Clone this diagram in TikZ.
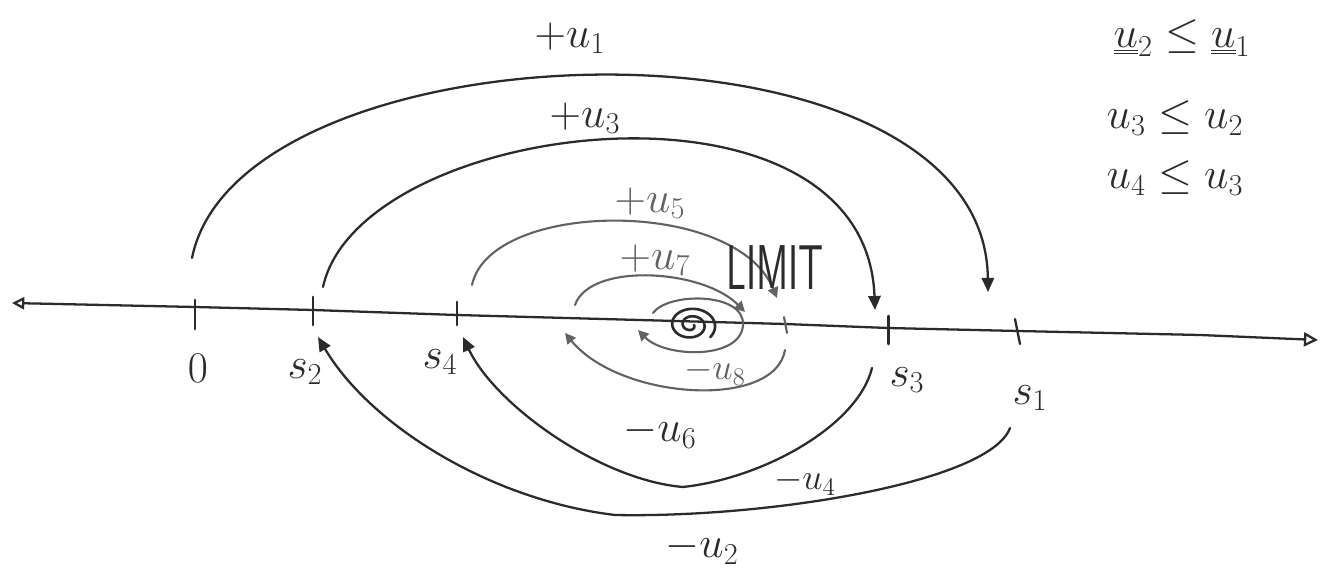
\documentclass[tikz,border=0pt]{standalone}
\usepackage{graphicx}
\usetikzlibrary{arrows.meta}
\definecolor{ink}{HTML}{2B2B2B}
\definecolor{inkgray}{HTML}{626262}
\begin{document}
\begin{tikzpicture}[x=0.02cm,y=-0.02cm,
  pen/.style={draw=ink,line width=1.3pt,line cap=round},
  penlight/.style={draw=inkgray,line width=1.2pt,line cap=round},
  arr/.style={-{Triangle[length=8pt,width=7pt]}},
  arrsmall/.style={-{Triangle[length=6pt,width=6pt]}},
  lbl/.style={font=\fontsize{24}{28}\selectfont,text=ink,inner sep=0pt},
  lbllight/.style={lbl,text=inkgray},
  tickmark/.style={pen,line width=1.7pt}]
\useasboundingbox (0,0) rectangle (1329,574);

% axis
\coordinate (axL) at (12,303);
\coordinate (ax0) at (195,307);
\coordinate (axs2) at (313,310);
\coordinate (axs4) at (457,315);
\coordinate (axlim) at (785,324);
\coordinate (axs3) at (888,328);
\coordinate (axs1) at (1018,331);
\coordinate (axm) at (1200,335);
\coordinate (axR) at (1318,340);
\draw[pen,{Triangle[open,length=7pt,width=7pt]}-{Triangle[open,length=8pt,width=8pt]}]
  (axL) -- (ax0) -- (axs2) -- (axs4) -- (axlim) -- (axs3) -- (axs1) -- (axm) -- (axR);

% ticks
\draw[tickmark] (195,300) -- (195,329);
\draw[tickmark] (313,297) -- (313,325);
\draw[tickmark] (457,302) -- (457,325);
\draw[penlight] (784,317) -- (787,333);
\draw[tickmark] (888,316) -- (888,344);
\draw[pen] (1015,319) -- (1020,344);

% axis labels
\node[lbl] (l0) at (198,368) {$0$};
\node[lbl] (ls2) at (305,372) {$s_2$};
\node[lbl] (ls4) at (440,362) {$s_4$};
\node[lbl] (ls3) at (907,380) {$s_3$};
\node[lbl] (ls1) at (1030,398) {$s_1$};

% endpoints
\coordinate (u1s) at (192,258);
\coordinate (u1e) at (988,292);
\coordinate (u3s) at (323,287);
\coordinate (u3e) at (875,310);
\coordinate (u5s) at (472,285);
\coordinate (u5e) at (777,298);
\coordinate (u7s) at (575,305);
\coordinate (u7e) at (745,312);
\coordinate (lps) at (653,313);
\coordinate (lpr) at (743,325);
\coordinate (lpe) at (638,330);
\coordinate (u6s) at (785,350);
\coordinate (u6e) at (565,333);
\coordinate (u4s) at (872,368);
\coordinate (u4m) at (683,487);
\coordinate (u4e) at (463,337);
\coordinate (u2s) at (1010,428);
\coordinate (u2m) at (615,515);
\coordinate (u2e) at (318,337);
\coordinate (spc) at (691,325);

% upper arcs
\draw[pen,arr] (u1s) .. controls (240,20) and (985,0) .. (u1e);
\draw[pen,arr] (u3s) .. controls (360,118) and (866,58) .. (u3e);
\draw[penlight,arrsmall] (u5s) .. controls (490,200) and (735,197) .. (u5e);
\draw[penlight,arrsmall] (u7s) .. controls (590,262) and (703,269) .. (u7e);

% inner loop and spiral
\draw[penlight,arrsmall] (lps) .. controls (668,292) and (745,292) .. (lpr)
  .. controls (741,360) and (665,358) .. (lpe);
\draw[pen,line width=1.5pt] plot[domain=0:760,samples=120,smooth]
  ({691+(3+21*\x/720)*cos(\x)},{325+(3+15*\x/720)*sin(\x)});

% lower arcs
\draw[penlight,arrsmall] (u6s) .. controls (775,410) and (620,400) .. (u6e);
\draw[pen,arr] (u4s) .. controls (858,425) and (765,478) .. (u4m)
  .. controls (600,480) and (495,405) .. (u4e);
\draw[pen,arr] (u2s) .. controls (990,482) and (770,518) .. (u2m)
  .. controls (490,500) and (370,425) .. (u2e);

% arc labels
\node[lbl] (tu1) at (570,38) {$+u_1$};
\node[lbl] (tu3) at (585,118) {$+u_3$};
\node[lbllight] (tu5) at (650,203) {$+u_5$};
\node[lbllight] (tu7) at (655,260) {$+u_7$};
\node[lbl,font=\sffamily\fontsize{36}{40}\selectfont] (tlim) at (775,268) {\scalebox{0.62}[1]{LIMIT}};
\node[lbllight,font=\fontsize{20}{24}\selectfont] (tu8) at (715,372) {$-u_8$};
\node[lbl] (tu6) at (660,432) {$-u_6$};
\node[lbl,font=\fontsize{21}{24}\selectfont] (tu4) at (805,482) {$-u_4$};
\node[lbl] (tu2) at (702,548) {$-u_2$};

% inequalities
\node[lbl] (iq1) at (1182,38) {$\underline{\underline{u}}_2 \le \underline{\underline{u}}_1$};
\node[lbl] (iq2) at (1175,118) {$u_3 \le u_2$};
\node[lbl] (iq3) at (1175,178) {$u_4 \le u_3$};
\end{tikzpicture}
\end{document}
